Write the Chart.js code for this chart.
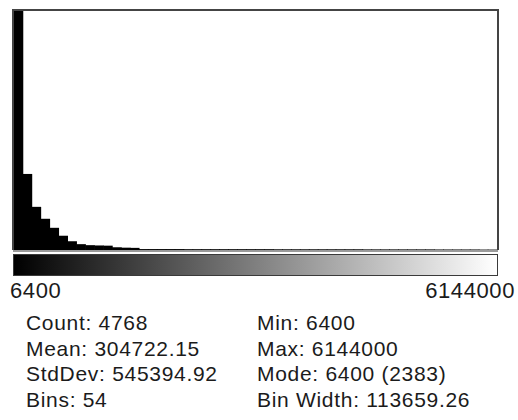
<!DOCTYPE html>
<html>
<head>
<meta charset="utf-8">
<script src="https://cdn.jsdelivr.net/npm/chart.js@4"></script>
<style>
  html, body { margin: 0; padding: 0; background: #fff; }
  body { width: 518px; height: 420px; position: relative; overflow: hidden;
         font-family: "Liberation Sans", Arial, sans-serif; color: #1b1b1b; }
  #plot { position: absolute; left: 0; top: 0; width: 518px; height: 260px; }
  #lut { position: absolute; left: 13px; top: 254px; width: 483px; height: 20px;
         border: 1px solid #3a3a3a; background: linear-gradient(to right, #000, #fff); }
  .tick { position: absolute; top: 278px; font-size: 22px; line-height: 25px; letter-spacing: 0.6px; }
  .stats { position: absolute; top: 310px; font-size: 21px; line-height: 25.5px; letter-spacing: 0.7px; }
  .stats div { white-space: nowrap; }
</style>
</head>
<body>
<div id="plot"><canvas id="histChart"></canvas></div>
<div id="lut"></div>
<div class="tick" id="tickMin" style="left:10px"></div>
<div class="tick" id="tickMax" style="right:3px"></div>
<div class="stats" id="statsLeft" style="left:26px"></div>
<div class="stats" id="statsRight" style="left:257px"></div>
<script>
// 54 bins, counts (first bin = mode, 2383)
const binCounts = [
  2383, 755, 427, 308, 218, 139, 84, 55, 45, 42, 40, 24, 20, 18,
  6, 6, 6, 6, 6, 5, 5, 5, 5, 5, 5, 5, 5, 5, 5, 4, 4, 4, 4, 4,
  4, 4, 4, 4, 4, 3, 3, 3, 3, 3, 3, 3, 3, 2, 2, 2, 2, 2, 1, 1
];
const binIndex = binCounts.map((_, i) => i + 1);
const axisTicks = ["6400", "6144000"];
const statsLeft = ["Count: 4768", "Mean: 304722.15", "StdDev: 545394.92", "Bins: 54"];
const statsRight = ["Min: 6400", "Max: 6144000", "Mode: 6400 (2383)", "Bin Width: 113659.26"];

document.getElementById("tickMin").innerText = axisTicks[0];
document.getElementById("tickMax").innerText = axisTicks[1];
document.getElementById("statsLeft").innerHTML = statsLeft.map((s) => `<div>${s}</div>`).join("");
document.getElementById("statsRight").innerHTML = statsRight.map((s) => `<div>${s}</div>`).join("");

const framePlugin = {
  id: "frame",
  afterDraw(chart) {
    const { ctx, chartArea: a } = chart;
    ctx.save();
    ctx.strokeStyle = "#9a9a9a";
    ctx.lineWidth = 2;
    ctx.beginPath();
    ctx.moveTo(a.left - 1, a.bottom + 1);
    ctx.lineTo(a.right + 1, a.bottom + 1);
    ctx.stroke();
    ctx.strokeStyle = "#444";
    ctx.beginPath();
    ctx.moveTo(a.left - 1, a.bottom);
    ctx.lineTo(a.left - 1, a.top - 1);
    ctx.lineTo(a.right + 1, a.top - 1);
    ctx.lineTo(a.right + 1, a.bottom);
    ctx.stroke();
    ctx.restore();
  }
};

new Chart(document.getElementById("histChart"), {
  type: "bar",
  data: {
    labels: binIndex,
    datasets: [{
      data: binCounts,
      backgroundColor: "#000",
      borderWidth: 0,
      barPercentage: 1,
      categoryPercentage: 1
    }]
  },
  options: {
    responsive: true,
    maintainAspectRatio: false,
    animation: false,
    layout: { padding: { left: 14, right: 21, top: 11, bottom: 10 } },
    plugins: { legend: { display: false }, tooltip: { enabled: false } },
    scales: {
      x: { display: false },
      y: { display: false, min: 0, max: 2383 }
    }
  },
  plugins: [framePlugin]
});
</script>
</body>
</html>
